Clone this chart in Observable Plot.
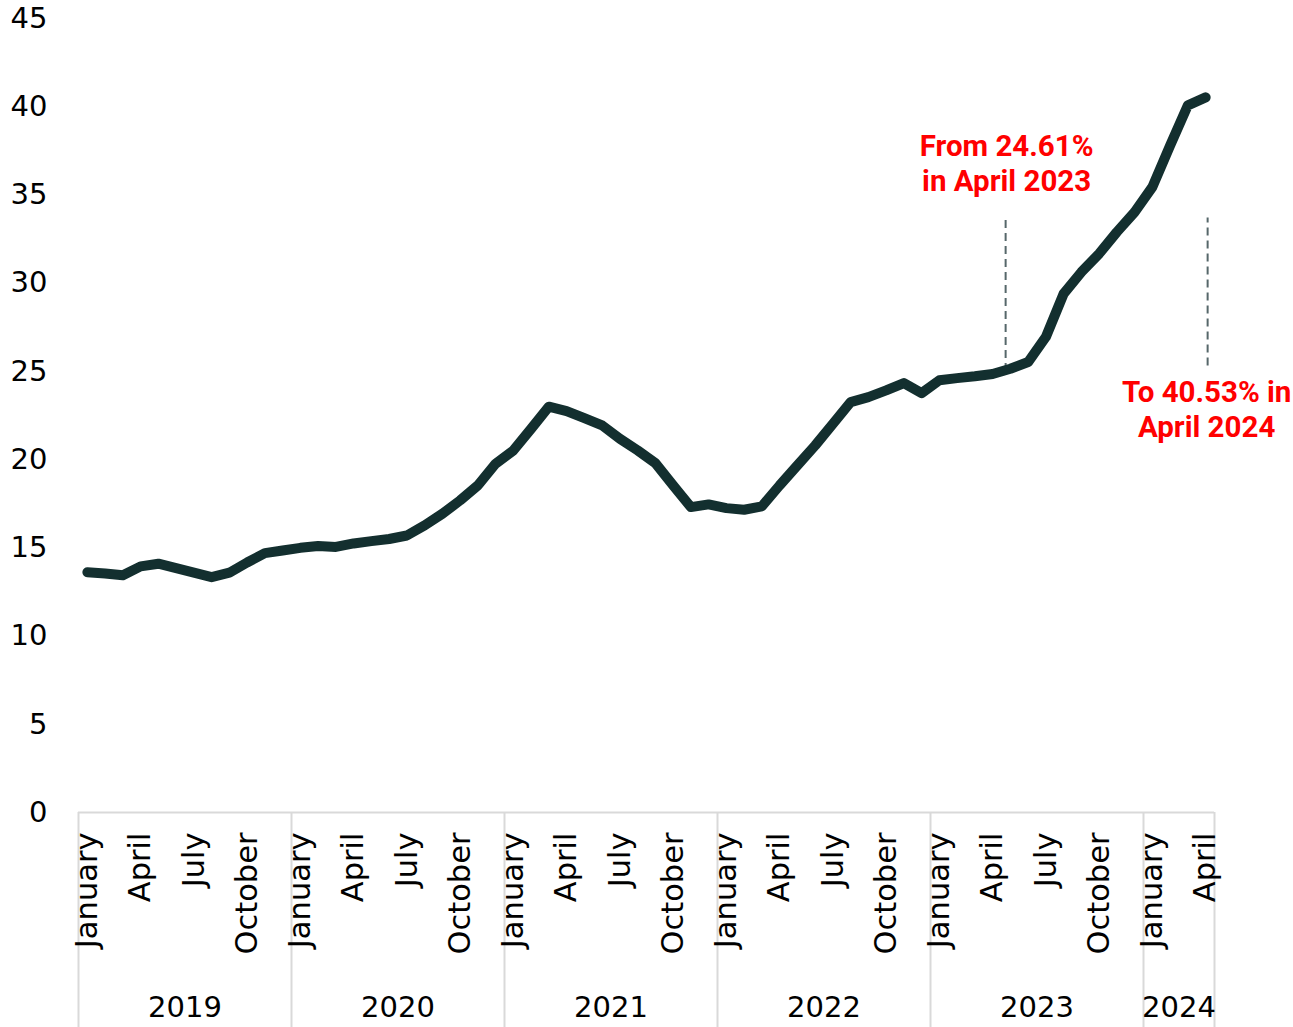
<!DOCTYPE html>
<html>
<head>
<meta charset="utf-8">
<script src="https://cdn.jsdelivr.net/npm/d3@7"></script>
<script src="https://cdn.jsdelivr.net/npm/@observablehq/plot@0.6"></script>
<style>
  html, body { margin: 0; padding: 0; background: #ffffff; }
  #chart { width: 1293px; height: 1027px; }
</style>
</head>
<body>
<div id="chart"></div>
<script>
// ---- data ----
const years = [2019, 2020, 2021, 2022, 2023, 2024];
const monthTickNames = ["January", "April", "July", "October"];
const monthTickOffsets = [0, 3, 6, 9];
const yTicks = [0, 5, 10, 15, 20, 25, 30, 35, 40, 45];

const rate2019 = [13.62, 13.55, 13.45, 13.95, 14.10, 13.85, 13.60, 13.34, 13.59, 14.17, 14.70, 14.85];
const rate2020 = [15.00, 15.10, 15.05, 15.25, 15.38, 15.50, 15.70, 16.27, 16.93, 17.69, 18.54, 19.77];
const rate2021 = [20.52, 21.75, 23.00, 22.75, 22.35, 21.94, 21.18, 20.52, 19.80, 18.54, 17.31, 17.46];
const rate2022 = [17.25, 17.16, 17.35, 18.54, 19.67, 20.80, 22.03, 23.26, 23.54, 23.92, 24.34, 23.77];
const rate2023 = [24.50, 24.62, 24.72, 24.85, 25.15, 25.53, 26.95, 29.40, 30.63, 31.67, 32.90, 34.03];
const rate2024 = [35.45, 37.80, 40.08, 40.53];

const annotationFrom = "From 24.61%\nin April 2023";
const annotationTo = "To 40.53% in\nApril 2024";

// ---- derived tables ----
const rateByYear = [rate2019, rate2020, rate2021, rate2022, rate2023, rate2024];
const series = [];
rateByYear.forEach((arr, yi) => arr.forEach((v, m) => series.push({i: yi * 12 + m, v})));
const n = series.length;

const monthTicks = [];
const monthName = new Map();
years.forEach((y, yi) => monthTickOffsets.forEach((m, k) => {
  const idx = yi * 12 + m;
  if (idx < n) { monthTicks.push(idx); monthName.set(idx, monthTickNames[k]); }
}));

const yearCenters = [];
const yearName = new Map();
const yearBounds = [-0.5];
years.forEach((y, yi) => {
  const s = yi * 12, e = Math.min(s + 12, n);
  const c = (s + e - 1) / 2;
  yearCenters.push(c); yearName.set(c, String(y));
  yearBounds.push(e - 0.5);
});

const aprIdx2023 = 4 * 12 + 3;
const aprIdx2024 = 5 * 12 + 3;

const FONT = "'Century Gothic', 'DejaVu Sans', sans-serif";
const GRID = "#d9d9d9";
const DASH = "#56676a";

const chart = Plot.plot({
  width: 1293,
  height: 1027,
  marginLeft: 78,
  marginRight: 79,
  marginTop: 18,
  marginBottom: 215,
  style: {fontFamily: FONT, fontSize: "29px", color: "#000", background: "#fff", overflow: "visible"},
  x: {type: "linear", domain: [-0.5, n - 0.5]},
  y: {domain: [0, 45]},
  marks: [
    Plot.axisY(yTicks, {tickSize: 0, tickPadding: 31, label: null, fill: "#000"}),
    Plot.ruleY([0], {stroke: GRID, strokeWidth: 2}),
    Plot.axisX(yearBounds, {tickSize: 215, tickFormat: () => "", stroke: GRID, strokeWidth: 2, label: null}),
    Plot.axisX(monthTicks, {tickSize: 0, tickPadding: 20, tickRotate: -90, fontSize: 30.5, tickFormat: d => monthName.get(d), label: null, fill: "#000"}),
    Plot.axisX(yearCenters, {tickSize: 0, tickPadding: 184, tickFormat: d => yearName.get(d), label: null, fill: "#000"}),
    Plot.ruleX([aprIdx2023], {y1: 25.0, y2: 33.7, dx: 13, stroke: DASH, strokeWidth: 2, strokeDasharray: "8,5"}),
    Plot.ruleX([aprIdx2024], {y1: 25.3, y2: 33.7, dx: 2, stroke: DASH, strokeWidth: 2, strokeDasharray: "8,5"}),
    Plot.line(series, {x: "i", y: "v", stroke: "#132f2f", strokeWidth: 10, strokeLinecap: "round", strokeLinejoin: "round"}),
    Plot.text([annotationFrom], {x: aprIdx2023, y: 36.87, dx: 14, text: d => d, fill: "#ff0000", fontWeight: "bold", fontSize: 29.5, fontFamily: "Roboto, sans-serif", lineHeight: 1.2, textAnchor: "middle", lineAnchor: "middle"}),
    Plot.text([annotationTo], {x: aprIdx2024, y: 22.93, dx: 1, text: d => d, fill: "#ff0000", fontWeight: "bold", fontSize: 29.5, fontFamily: "Roboto, sans-serif", lineHeight: 1.2, textAnchor: "middle", lineAnchor: "middle"})
  ]
});
document.getElementById("chart").appendChild(chart);
</script>
</body>
</html>
